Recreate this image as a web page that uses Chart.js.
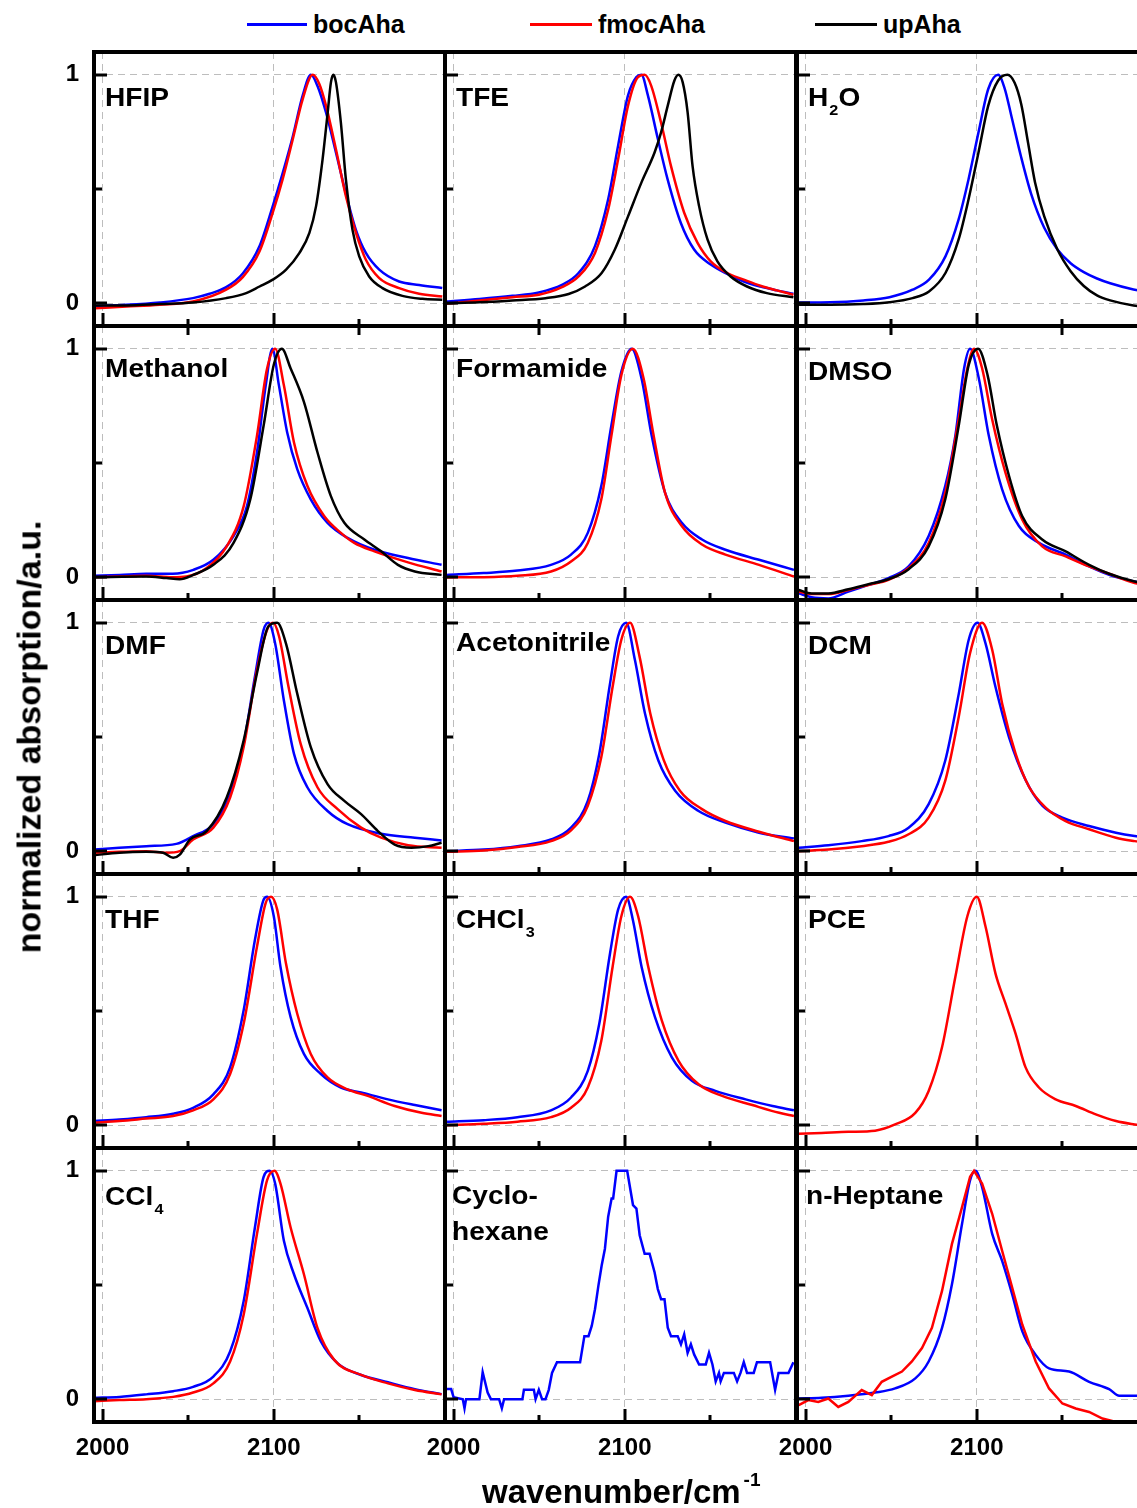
<!DOCTYPE html>
<html>
<head>
<meta charset="utf-8">
<script src="https://cdn.jsdelivr.net/npm/chart.js@4.4.0/dist/chart.umd.min.js"></script>
<style>
  html, body { margin: 0; padding: 0; background: #fff; overflow: hidden; }
  #page { position: relative; width: 1137px; height: 1508px; overflow: hidden;
          font-family: "Liberation Sans", Arial, sans-serif; font-weight: bold; color: #000; }
  canvas { position: absolute; }
  .lab { position: absolute; font-size: 26px; line-height: 26px; white-space: nowrap;
         transform: scaleX(1.08); transform-origin: 0 0; }
  .lab .sub { font-size: 15px; position: relative; top: 9px; margin-left: 1px; }
  .leg { position: absolute; font-size: 25px; line-height: 25px; white-space: nowrap; }
  .legline { position: absolute; height: 3px; }
  .title { position: absolute; font-size: 33px; line-height: 33px; white-space: nowrap; }
</style>
</head>
<body>
<div id="page"></div>
<script>
// axis ranges shared by all 15 panels
const X_MIN = 1995, X_MAX = 2200, Y_MIN = -0.1, Y_MAX = 1.1;
const xGridTicks = [2000, 2100];
const xMinorTicks = [2050, 2150];
const yGridTicks = [0, 1];
const yMinorTicks = [0.5];

const seriesNames = ['bocAha', 'fmocAha', 'upAha'];
const seriesColors = ['#0000ff', '#ff0000', '#000000'];

// ---- HFIP ----
const hfipBocX = [1995.5, 2014, 2033.4, 2052.8, 2062.5, 2072.2, 2081.9, 2091.7, 2099.4, 2105.2, 2111.1, 2116.9, 2121.7, 2125.6, 2130.5, 2136.3, 2142.1, 2148, 2153.8, 2161.6, 2173.2, 2184.9, 2198.4];
const hfipBocY = [-0.012, -0.007, 0.003, 0.022, 0.041, 0.07, 0.13, 0.25, 0.425, 0.57, 0.73, 0.91, 1.0, 0.95, 0.835, 0.66, 0.48, 0.32, 0.22, 0.147, 0.095, 0.08, 0.066];
const hfipFmocX = [1995.5, 2014, 2033.4, 2052.8, 2072.2, 2081.9, 2091.7, 2099.4, 2105.2, 2111.1, 2116.9, 2122.7, 2126.6, 2130.5, 2136.3, 2142.1, 2148, 2153.8, 2161.6, 2173.2, 2184.9, 2198.4];
const hfipFmocY = [-0.022, -0.015, -0.007, 0.007, 0.059, 0.114, 0.227, 0.396, 0.543, 0.718, 0.894, 1.0, 0.96, 0.865, 0.674, 0.469, 0.308, 0.19, 0.11, 0.066, 0.041, 0.029];
const hfipUpX = [1995.5, 2014, 2033.4, 2052.8, 2072.2, 2083.9, 2091.7, 2099.4, 2107.2, 2115, 2120.8, 2124.7, 2128.5, 2131.5, 2133.4, 2134.8, 2136.3, 2139.2, 2142.1, 2146, 2149.9, 2155.7, 2163.5, 2175.1, 2186.8, 2198.4];
const hfipUpY = [-0.01, -0.01, -0.004, 0.003, 0.022, 0.044, 0.073, 0.103, 0.147, 0.22, 0.308, 0.425, 0.63, 0.836, 0.968, 1.0, 0.968, 0.79, 0.543, 0.32, 0.205, 0.117, 0.066, 0.032, 0.019, 0.015];

// ---- TFE ----
const tfeBocX = [1995.8, 2015.1, 2034.4, 2049.8, 2063.3, 2073, 2082.6, 2090.3, 2096.1, 2101.9, 2106.8, 2109.7, 2113.5, 2119.3, 2125.1, 2132.8, 2140.5, 2150.2, 2159.8, 2169.5, 2179.2, 2188.8, 2198.5];
const tfeBocY = [0.007, 0.018, 0.032, 0.047, 0.08, 0.132, 0.25, 0.455, 0.69, 0.91, 0.99, 1.0, 0.91, 0.72, 0.54, 0.35, 0.235, 0.169, 0.128, 0.095, 0.073, 0.056, 0.041];
const tfeFmocX = [1995.8, 2015.1, 2034.4, 2049.8, 2063.3, 2073, 2082.6, 2090.3, 2096.1, 2101.9, 2107.7, 2111.6, 2115.4, 2121.2, 2127, 2134.7, 2142.5, 2150.2, 2159.8, 2169.5, 2179.2, 2188.8, 2198.5];
const tfeFmocY = [-0.003, 0.012, 0.026, 0.037, 0.07, 0.117, 0.22, 0.41, 0.63, 0.865, 0.99, 1.0, 0.953, 0.79, 0.6, 0.396, 0.264, 0.183, 0.132, 0.103, 0.076, 0.056, 0.037];
const tfeUpX = [1995.8, 2015.1, 2034.4, 2053.7, 2067.2, 2076.8, 2086.5, 2094.2, 2101.9, 2109.7, 2117.4, 2121.2, 2125.1, 2129, 2131.3, 2133.8, 2136.7, 2139.6, 2143.4, 2148.3, 2154.1, 2161.8, 2171.4, 2183, 2198.5];
const tfeUpY = [0, 0.004, 0.012, 0.022, 0.04, 0.073, 0.132, 0.235, 0.38, 0.528, 0.66, 0.748, 0.865, 0.975, 1.0, 0.968, 0.836, 0.6, 0.425, 0.279, 0.183, 0.117, 0.073, 0.044, 0.026];

// ---- H2O ----
const h2oBocX = [1996.2, 2014.4, 2033.7, 2049, 2062.5, 2072.1, 2081.7, 2089.4, 2095.2, 2101, 2106.7, 2112.5, 2116.3, 2120.2, 2125.9, 2131.7, 2139.4, 2147.1, 2154.8, 2162.5, 2170.2, 2177.9, 2191.5, 2200];
const h2oBocY = [0.003, 0.004, 0.012, 0.026, 0.059, 0.103, 0.205, 0.367, 0.543, 0.748, 0.938, 1.0, 0.94, 0.82, 0.64, 0.48, 0.33, 0.235, 0.175, 0.136, 0.108, 0.087, 0.06, 0.05];
const h2oUpX = [1996.2, 2014.4, 2033.7, 2049, 2062.5, 2072.1, 2081.7, 2089.4, 2095.2, 2101, 2106.7, 2112.5, 2117.9, 2122.1, 2126, 2130, 2134, 2139.4, 2147.1, 2154.8, 2162.5, 2170.2, 2177.9, 2191.5, 2200];
const h2oUpY = [-0.007, -0.007, -0.004, 0.004, 0.022, 0.051, 0.132, 0.279, 0.455, 0.66, 0.865, 0.975, 1.0, 0.965, 0.87, 0.7, 0.53, 0.38, 0.235, 0.14, 0.075, 0.034, 0.012, -0.01, -0.015];

// ---- Methanol ----
const meohBocX = [1995, 2010, 2025.5, 2041, 2053, 2064.7, 2076.5, 2084.3, 2090.2, 2095.3, 2099.2, 2103, 2107.8, 2113.7, 2121.6, 2131.4, 2143.1, 2158.8, 2178.4, 2198];
const meohBocY = [0.006, 0.01, 0.015, 0.015, 0.032, 0.076, 0.18, 0.31, 0.547, 0.84, 1.0, 0.84, 0.635, 0.473, 0.341, 0.238, 0.172, 0.12, 0.084, 0.054];
const meohFmocX = [1995, 2010, 2025.5, 2041, 2049, 2060.8, 2072.5, 2082.4, 2090.2, 2096, 2100.8, 2105.9, 2111.8, 2119.6, 2129.4, 2139.2, 2147, 2158.8, 2178.4, 2198];
const meohFmocY = [0, 0.003, 0.006, 0, 0.003, 0.04, 0.135, 0.31, 0.62, 0.91, 1.0, 0.84, 0.59, 0.4, 0.268, 0.194, 0.15, 0.113, 0.065, 0.025];
const meohUpX = [1995, 2025.5, 2037.3, 2045, 2053, 2064.7, 2076.5, 2086.3, 2094.1, 2100, 2104.7, 2109.8, 2117.6, 2125.5, 2133.3, 2141.2, 2152.9, 2162.7, 2172.5, 2182.4, 2198];
const meohUpY = [0, 0.003, -0.004, -0.009, 0.01, 0.054, 0.15, 0.341, 0.665, 0.93, 1.0, 0.915, 0.768, 0.547, 0.356, 0.238, 0.165, 0.113, 0.054, 0.025, 0.01];

// ---- Formamide ----
const formBocX = [1996, 2017.6, 2037.3, 2056.9, 2068.6, 2078.4, 2086.3, 2092.2, 2098, 2104, 2109.8, 2115.7, 2123.5, 2133.3, 2145.1, 2158.8, 2178.4, 2198.8];
const formBocY = [0.01, 0.018, 0.029, 0.054, 0.099, 0.194, 0.4, 0.665, 0.9, 1.0, 0.87, 0.62, 0.37, 0.238, 0.165, 0.12, 0.076, 0.032];
const formFmocX = [1996, 2017.6, 2037.3, 2056.9, 2068.6, 2078.4, 2086.3, 2092.2, 2098, 2104.7, 2111, 2116.5, 2123.5, 2133.3, 2145.1, 2158.8, 2178.4, 2198.8];
const formFmocY = [-0.001, 0, 0.006, 0.025, 0.069, 0.15, 0.341, 0.62, 0.885, 1.0, 0.87, 0.635, 0.37, 0.224, 0.143, 0.099, 0.054, 0.003];

// ---- DMSO ----
const dmsoBocX = [1996, 2003.5, 2013.3, 2025, 2036.7, 2048.4, 2060.2, 2071.9, 2081.6, 2087.5, 2092.6, 2096.1, 2101.2, 2107, 2114.8, 2124.6, 2136.3, 2151.9, 2165.6, 2177.3, 2192.2, 2200];
const dmsoBocY = [-0.071, -0.088, -0.093, -0.063, -0.034, -0.004, 0.047, 0.18, 0.4, 0.62, 0.915, 1.0, 0.87, 0.62, 0.385, 0.224, 0.15, 0.099, 0.047, 0.01, -0.019, -0.03];
const dmsoFmocX = [1996, 2003.5, 2013.3, 2025, 2036.7, 2048.4, 2060.2, 2071.9, 2081.6, 2089.5, 2094.5, 2098.4, 2103.1, 2108.9, 2116.7, 2126.5, 2138.2, 2151.9, 2165.6, 2177.3, 2192.2, 2200];
const dmsoFmocY = [-0.063, -0.074, -0.074, -0.056, -0.034, -0.012, 0.04, 0.15, 0.37, 0.694, 0.915, 1.0, 0.915, 0.694, 0.459, 0.253, 0.135, 0.091, 0.047, 0.015, -0.026, -0.035];
const dmsoUpX = [1996, 2003.5, 2013.3, 2025, 2036.7, 2048.4, 2060.2, 2071.9, 2081.6, 2089.5, 2095.3, 2100.8, 2106.3, 2111.7, 2118.8, 2126.5, 2138.2, 2151.9, 2165.6, 2177.3, 2192.2, 2200];
const dmsoUpY = [-0.056, -0.071, -0.071, -0.053, -0.031, -0.009, 0.035, 0.135, 0.341, 0.665, 0.93, 1.0, 0.885, 0.665, 0.444, 0.268, 0.165, 0.113, 0.054, 0.015, -0.019, -0.03];

// ---- DMF ----
const dmfBocX = [1994.9, 2009.8, 2025.5, 2043.1, 2052.9, 2064.7, 2074.5, 2082.4, 2089, 2094.1, 2096.9, 2100.8, 2105.9, 2111.8, 2119.6, 2131.4, 2143.1, 2162.7, 2182.4, 2198];
const dmfBocY = [0.007, 0.015, 0.022, 0.032, 0.066, 0.118, 0.25, 0.47, 0.765, 0.97, 1.0, 0.91, 0.66, 0.426, 0.28, 0.176, 0.118, 0.076, 0.059, 0.047];
const dmfFmocX = [1994.9, 2009.8, 2025.5, 2037.3, 2045.1, 2052.9, 2064.7, 2074.5, 2082.4, 2090.2, 2096.1, 2099.6, 2103.1, 2108.6, 2115.7, 2125.5, 2137.3, 2151, 2162.7, 2178.4, 2198];
const dmfFmocY = [-0.007, -0.003, 0, -0.007, 0, 0.051, 0.103, 0.235, 0.456, 0.794, 0.97, 1.0, 0.94, 0.72, 0.47, 0.28, 0.184, 0.103, 0.059, 0.026, 0.015];
const dmfUpX = [1994.9, 2009.8, 2025.5, 2035.3, 2041.2, 2045.1, 2051, 2060.8, 2072.5, 2082.4, 2090.2, 2096.9, 2102, 2107.1, 2113.7, 2121.6, 2131.4, 2141.2, 2151, 2160.8, 2170.6, 2180.4, 2190.2, 2198];
const dmfUpY = [-0.018, -0.007, -0.003, -0.007, -0.029, -0.015, 0.051, 0.088, 0.235, 0.485, 0.78, 0.985, 1.0, 0.91, 0.69, 0.456, 0.294, 0.22, 0.162, 0.088, 0.029, 0.015, 0.022, 0.037];

// ---- Acetonitrile ----
const acnBocX = [1996, 2017.6, 2037.3, 2056.9, 2068.6, 2078.4, 2085.1, 2091.4, 2096.1, 2100.8, 2105.9, 2111.8, 2119.6, 2129.4, 2143.1, 2158.8, 2178.4, 2198.8];
const acnBocY = [0, 0.007, 0.022, 0.051, 0.103, 0.22, 0.426, 0.735, 0.94, 1.0, 0.838, 0.603, 0.397, 0.265, 0.176, 0.125, 0.081, 0.056];
const acnFmocX = [1996, 2017.6, 2037.3, 2056.9, 2068.6, 2078.4, 2086.3, 2092.9, 2098, 2103.1, 2108.6, 2114.9, 2122.7, 2132.2, 2145.1, 2158.8, 2178.4, 2198.8];
const acnFmocY = [-0.003, 0.003, 0.018, 0.044, 0.091, 0.199, 0.412, 0.72, 0.926, 1.0, 0.853, 0.603, 0.4, 0.265, 0.184, 0.132, 0.085, 0.044];

// ---- DCM ----
const dcmBocX = [1996, 2013.3, 2032.8, 2048.4, 2060.2, 2071.9, 2081.6, 2089.5, 2095.3, 2100.4, 2105.1, 2110.9, 2118.8, 2128.5, 2138.3, 2150, 2165.6, 2181.3, 2192.2, 2200];
const dcmBocY = [0.015, 0.026, 0.044, 0.066, 0.103, 0.206, 0.397, 0.69, 0.926, 1.0, 0.91, 0.72, 0.5, 0.312, 0.199, 0.147, 0.11, 0.081, 0.066, 0.058];
const dcmFmocX = [1996, 2013.3, 2032.8, 2048.4, 2060.2, 2071.9, 2081.6, 2089.5, 2096.1, 2103.1, 2109, 2114.8, 2122.7, 2130.5, 2140.2, 2151.9, 2165.6, 2181.3, 2192.2, 2200];
const dcmFmocY = [0, 0.007, 0.022, 0.041, 0.074, 0.147, 0.309, 0.59, 0.868, 1.0, 0.882, 0.647, 0.426, 0.282, 0.191, 0.132, 0.096, 0.059, 0.044, 0.036];

// ---- THF ----
const thfBocX = [1994.9, 2009.8, 2025.5, 2041.2, 2052.9, 2064.7, 2074.5, 2082.4, 2089, 2094.1, 2096.1, 2100, 2103.9, 2109.8, 2117.6, 2127.5, 2139.2, 2151, 2166.7, 2182.4, 2198];
const thfBocY = [0.018, 0.025, 0.035, 0.05, 0.076, 0.135, 0.253, 0.503, 0.812, 0.988, 1.0, 0.915, 0.694, 0.474, 0.312, 0.224, 0.165, 0.143, 0.113, 0.088, 0.065];
const thfFmocX = [1994.9, 2009.8, 2025.5, 2041.2, 2052.9, 2064.7, 2074.5, 2082.4, 2090.2, 2095.3, 2098.4, 2102, 2107.1, 2113.7, 2121.6, 2131.4, 2143.1, 2154.9, 2170.6, 2186.3, 2198];
const thfFmocY = [0.01, 0.018, 0.029, 0.04, 0.065, 0.113, 0.224, 0.444, 0.782, 0.974, 1.0, 0.944, 0.709, 0.488, 0.312, 0.209, 0.157, 0.128, 0.084, 0.054, 0.04];

// ---- CHCl3 ----
const chclBocX = [1996, 2017.6, 2037.3, 2056.9, 2068.6, 2078.4, 2085.1, 2091.4, 2096.1, 2100.8, 2104.7, 2109.8, 2117.6, 2127.5, 2139.2, 2152.9, 2170.6, 2186.3, 2198.8];
const chclBocY = [0.015, 0.022, 0.035, 0.065, 0.121, 0.238, 0.444, 0.753, 0.944, 1.0, 0.9, 0.694, 0.474, 0.297, 0.194, 0.15, 0.113, 0.084, 0.065];
const chclFmocX = [1996, 2017.6, 2037.3, 2056.9, 2068.6, 2078.4, 2086.3, 2092.9, 2098, 2103.1, 2107.8, 2113.7, 2121.6, 2131.4, 2143.1, 2156.9, 2174.5, 2190.2, 2198.8];
const chclFmocY = [0, 0.006, 0.015, 0.035, 0.076, 0.165, 0.37, 0.694, 0.915, 1.0, 0.915, 0.694, 0.459, 0.282, 0.179, 0.128, 0.088, 0.054, 0.04];

// ---- PCE ----
const pceFmocX = [1996, 2009.4, 2025, 2040.6, 2052.3, 2064.1, 2071.9, 2079.7, 2087.5, 2094.5, 2100, 2105.1, 2110.9, 2116.8, 2122.7, 2128.5, 2136.3, 2146.1, 2157.8, 2169.5, 2181.3, 2192.2, 2200];
const pceFmocY = [-0.038, -0.034, -0.029, -0.024, 0.003, 0.054, 0.15, 0.341, 0.65, 0.915, 1.0, 0.87, 0.665, 0.532, 0.4, 0.253, 0.165, 0.113, 0.084, 0.047, 0.018, 0.003, -0.005];

// ---- CCl4 ----
const cclBocX = [1994.9, 2009.8, 2025.5, 2041.2, 2052.9, 2064.7, 2074.5, 2082.4, 2089, 2094.1, 2097.6, 2100.8, 2105.9, 2111.8, 2119.6, 2127.5, 2137.3, 2151, 2166.7, 2182.4, 2198];
const cclBocY = [0.006, 0.01, 0.021, 0.035, 0.054, 0.099, 0.209, 0.429, 0.753, 0.974, 1.0, 0.944, 0.694, 0.547, 0.4, 0.253, 0.157, 0.106, 0.074, 0.044, 0.022];
const cclFmocX = [1994.9, 2009.8, 2025.5, 2041.2, 2052.9, 2064.7, 2074.5, 2082.4, 2090.2, 2096.1, 2100.4, 2103.9, 2109.8, 2117.6, 2125.5, 2135.3, 2151, 2166.7, 2182.4, 2198];
const cclFmocY = [-0.009, -0.004, 0, 0.01, 0.029, 0.069, 0.165, 0.37, 0.724, 0.959, 1.0, 0.944, 0.753, 0.547, 0.312, 0.172, 0.106, 0.069, 0.04, 0.021];

// ---- Cyclohexane (noisy, drawn straight) ----
const chexBocX = [1995.4, 1998.6, 2000, 2005.4, 2006.4, 2007.3, 2015.1, 2017, 2019.9, 2021.8, 2026.6, 2028.2, 2029.5, 2040.2, 2041.1, 2046.9, 2047.9, 2049.8, 2051.7, 2053.7, 2055.6, 2057.5, 2060.4, 2073.9, 2076.4, 2078.8, 2080.7, 2082.6, 2084.6, 2086.5, 2088.4, 2090.3, 2092.3, 2093.2, 2095.2, 2101.4, 2104.8, 2106.8, 2108.7, 2111.6, 2114.5, 2117.4, 2119.3, 2121.2, 2123.2, 2125.1, 2127, 2130.9, 2132.8, 2134.7, 2136.7, 2138.6, 2140.5, 2143.4, 2147.3, 2149.2, 2151.2, 2153.1, 2155, 2156, 2157.9, 2163.7, 2165.6, 2167.6, 2169.5, 2171.4, 2175.3, 2177.2, 2184.9, 2187.8, 2189.8, 2195.6, 2198.5];
const chexBocY = [0.044, 0.044, 0.009, 0, -0.04, 0, 0, 0.118, 0.029, 0, 0, -0.04, 0, 0, 0.041, 0.041, 0, 0.041, 0, 0, 0.041, 0.115, 0.162, 0.162, 0.276, 0.276, 0.321, 0.394, 0.497, 0.585, 0.659, 0.799, 0.879, 0.879, 1.0, 1.0, 0.85, 0.835, 0.718, 0.637, 0.637, 0.556, 0.482, 0.438, 0.438, 0.313, 0.276, 0.276, 0.24, 0.284, 0.203, 0.24, 0.196, 0.152, 0.152, 0.203, 0.152, 0.078, 0.115, 0.078, 0.115, 0.115, 0.078, 0.115, 0.162, 0.115, 0.115, 0.162, 0.162, 0.041, 0.115, 0.115, 0.162];

// ---- n-Heptane ----
const hepBocX = [1996, 2009.4, 2025, 2040.6, 2052.3, 2064.1, 2071.9, 2079.7, 2085.5, 2091.4, 2096.1, 2099.2, 2103.1, 2109, 2114.8, 2120.7, 2126.6, 2134.4, 2142.2, 2153.9, 2165.6, 2177.3, 2183.2, 2192.2, 2200];
const hepBocY = [0.003, 0.006, 0.015, 0.029, 0.047, 0.091, 0.165, 0.312, 0.503, 0.768, 0.959, 1.0, 0.929, 0.724, 0.606, 0.459, 0.297, 0.194, 0.135, 0.121, 0.076, 0.044, 0.015, 0.015, 0.015];
const hepFmocX = [1996, 2001.6, 2007.4, 2013.3, 2019.1, 2025, 2032.8, 2038.7, 2044.5, 2050.4, 2056.3, 2062.1, 2068, 2073.8, 2079.7, 2085.5, 2091.4, 2096.1, 2098.4, 2103.1, 2109, 2114.8, 2120.7, 2126.6, 2134.4, 2142.2, 2150, 2157.8, 2165.6, 2173.4, 2181.3, 2200];
const hepFmocY = [-0.026, -0.004, -0.012, 0.003, -0.034, -0.012, 0.04, 0.018, 0.076, 0.099, 0.121, 0.165, 0.224, 0.312, 0.474, 0.68, 0.841, 0.974, 1.0, 0.944, 0.812, 0.65, 0.488, 0.326, 0.165, 0.047, -0.019, -0.041, -0.056, -0.085, -0.1, -0.1];

// panel order: row by row, left to right
const panels = [
  { label: 'HFIP', boc: [hfipBocX, hfipBocY], fmoc: [hfipFmocX, hfipFmocY], up: [hfipUpX, hfipUpY] },
  { label: 'TFE', boc: [tfeBocX, tfeBocY], fmoc: [tfeFmocX, tfeFmocY], up: [tfeUpX, tfeUpY] },
  { label: 'H<span class="sub">2</span>O', boc: [h2oBocX, h2oBocY], up: [h2oUpX, h2oUpY] },
  { label: 'Methanol', boc: [meohBocX, meohBocY], fmoc: [meohFmocX, meohFmocY], up: [meohUpX, meohUpY], dy: -3 },
  { label: 'Formamide', boc: [formBocX, formBocY], fmoc: [formFmocX, formFmocY], dy: -3 },
  { label: 'DMSO', boc: [dmsoBocX, dmsoBocY], fmoc: [dmsoFmocX, dmsoFmocY], up: [dmsoUpX, dmsoUpY] },
  { label: 'DMF', boc: [dmfBocX, dmfBocY], fmoc: [dmfFmocX, dmfFmocY], up: [dmfUpX, dmfUpY] },
  { label: 'Acetonitrile', boc: [acnBocX, acnBocY], fmoc: [acnFmocX, acnFmocY], dy: -3 },
  { label: 'DCM', boc: [dcmBocX, dcmBocY], fmoc: [dcmFmocX, dcmFmocY] },
  { label: 'THF', boc: [thfBocX, thfBocY], fmoc: [thfFmocX, thfFmocY] },
  { label: 'CHCl<span class="sub">3</span>', boc: [chclBocX, chclBocY], fmoc: [chclFmocX, chclFmocY] },
  { label: 'PCE', fmoc: [pceFmocX, pceFmocY] },
  { label: 'CCl<span class="sub">4</span>', boc: [cclBocX, cclBocY], fmoc: [cclFmocX, cclFmocY], dy: 3 },
  { label: 'Cyclo-<br>hexane', boc: [chexBocX, chexBocY], noisy: ['boc'], dy: -3, dx: -4 },
  { label: 'n-Heptane', boc: [hepBocX, hepBocY], fmoc: [hepFmocX, hepFmocY], noisy: ['fmoc'], dy: 2, dx: -2 }
];

const colLeft = [94, 445, 797];
const rowTop = [52, 326, 600, 874, 1148];
const PW = 351, PH = 274;
const FONT = '"Liberation Sans", Arial, sans-serif';

// frame + inward ticks, drawn on top of the curves
const framePlugin = {
  id: 'frame',
  afterDraw(chart, args, opts) {
    const { ctx, chartArea: a, scales: { x, y } } = chart;
    ctx.save();
    ctx.strokeStyle = '#000';
    ctx.lineCap = 'butt';
    ctx.lineWidth = 3;
    xGridTicks.concat(xMinorTicks).forEach(v => {
      const px = Math.round(x.getPixelForValue(v));
      const major = xGridTicks.includes(v);
      const len = major ? 13 : 7;
      const out = (!major && opts.minorOut) ? 9 : 0;
      ctx.beginPath();
      ctx.moveTo(px, a.bottom + out);
      ctx.lineTo(px, a.bottom - len);
      ctx.stroke();
    });
    yGridTicks.concat(yMinorTicks).forEach(v => {
      const py = Math.round(y.getPixelForValue(v));
      const len = yGridTicks.includes(v) ? 13 : 8;
      ctx.beginPath();
      ctx.moveTo(a.left, py);
      ctx.lineTo(a.left + len, py);
      ctx.stroke();
    });
    ctx.lineWidth = 4;
    ctx.strokeRect(a.left, a.top, a.right - a.left, a.bottom - a.top);
    ctx.restore();
  }
};

const page = document.getElementById('page');

panels.forEach((p, i) => {
  const r = Math.floor(i / 3), c = i % 3;
  const leftM = (c === 0 || r === 4) ? 50 : 8;
  const bottomM = r === 4 ? 45 : 12;
  const topM = 8, rightM = 8;

  const cv = document.createElement('canvas');
  cv.width = PW + leftM + rightM;
  cv.height = PH + topM + bottomM;
  cv.style.left = (colLeft[c] - leftM) + 'px';
  cv.style.top = (rowTop[r] - topM) + 'px';
  page.appendChild(cv);

  // top of the drawing stack first: upAha, then fmocAha, then bocAha
  const datasets = [];
  [['up', 2], ['fmoc', 1], ['boc', 0]].forEach(([key, k]) => {
    if (!p[key]) return;
    const [xs, ys] = p[key];
    const noisy = p.noisy && p.noisy.includes(key);
    datasets.push({
      label: seriesNames[k],
      data: xs.map((xv, j) => ({ x: xv, y: ys[j] })),
      borderColor: seriesColors[k],
      borderWidth: 2.5,
      pointRadius: 0,
      fill: false,
      tension: 0,
      cubicInterpolationMode: noisy ? 'default' : 'monotone'
    });
  });

  new Chart(cv.getContext('2d'), {
    type: 'line',
    data: { datasets },
    options: {
      responsive: false,
      animation: false,
      events: [],
      layout: { padding: { top: topM, right: rightM, left: 0, bottom: 0 } },
      plugins: {
        legend: { display: false },
        tooltip: { enabled: false },
        frame: { minorOut: r === 0 }
      },
      scales: {
        x: {
          type: 'linear', min: X_MIN, max: X_MAX,
          afterBuildTicks: s => { s.ticks = xGridTicks.map(v => ({ value: v })); },
          afterFit: s => { s.height = bottomM; s.paddingLeft = 0; s.paddingRight = 0; },
          grid: { color: '#bdbdbd', lineWidth: 1, drawTicks: false },
          border: { display: false, dash: [7, 5] },
          ticks: {
            display: r === 4, padding: 12, color: '#000', maxRotation: 0,
            font: { family: FONT, size: 24, weight: 'bold' },
            callback: v => String(v)
          }
        },
        y: {
          type: 'linear', min: Y_MIN, max: Y_MAX,
          afterBuildTicks: s => { s.ticks = yGridTicks.map(v => ({ value: v })); },
          afterFit: s => { s.width = leftM; s.paddingTop = 0; s.paddingBottom = 0; },
          grid: { color: '#bdbdbd', lineWidth: 1, drawTicks: false },
          border: { display: false, dash: [7, 5] },
          ticks: {
            display: c === 0, padding: 15, color: '#000',
            font: { family: FONT, size: 24, weight: 'bold' },
            callback: v => String(v)
          }
        }
      }
    },
    plugins: [framePlugin]
  });

  const lab = document.createElement('div');
  lab.className = 'lab';
  lab.innerHTML = p.label;
  lab.style.left = (colLeft[c] + 11 + (p.dx || 0)) + 'px';
  lab.style.top = (rowTop[r] + 32 + (p.dy || 0)) + 'px';
  if (p.label.includes('<br>')) lab.style.lineHeight = '36px';
  page.appendChild(lab);
});

// legend across the top
const legendPos = [[247, 307, 313], [530, 592, 598], [815, 877, 883]];
seriesNames.forEach((name, k) => {
  const [x0, x1, tx] = legendPos[k];
  const ln = document.createElement('div');
  ln.className = 'legline';
  ln.style.left = x0 + 'px';
  ln.style.width = (x1 - x0) + 'px';
  ln.style.top = '23px';
  ln.style.background = seriesColors[k];
  page.appendChild(ln);
  const t = document.createElement('div');
  t.className = 'leg';
  t.textContent = name;
  t.style.left = tx + 'px';
  t.style.top = '12px';
  page.appendChild(t);
});

// axis titles
const yTitle = document.createElement('div');
yTitle.className = 'title';
yTitle.style.fontSize = '34px';
yTitle.textContent = 'normalized absorption/a.u.';
yTitle.style.left = '29px';
yTitle.style.top = '737px';
yTitle.style.transform = 'translate(-50%, -50%) rotate(-90deg)';
page.appendChild(yTitle);

const xTitle = document.createElement('div');
xTitle.className = 'title';
xTitle.innerHTML = 'wavenumber/cm<span style="font-size:19px;position:relative;top:-17px;margin-left:3px">-1</span>';
xTitle.style.left = '482px';
xTitle.style.top = '1475px';
page.appendChild(xTitle);
</script>
</body>
</html>
